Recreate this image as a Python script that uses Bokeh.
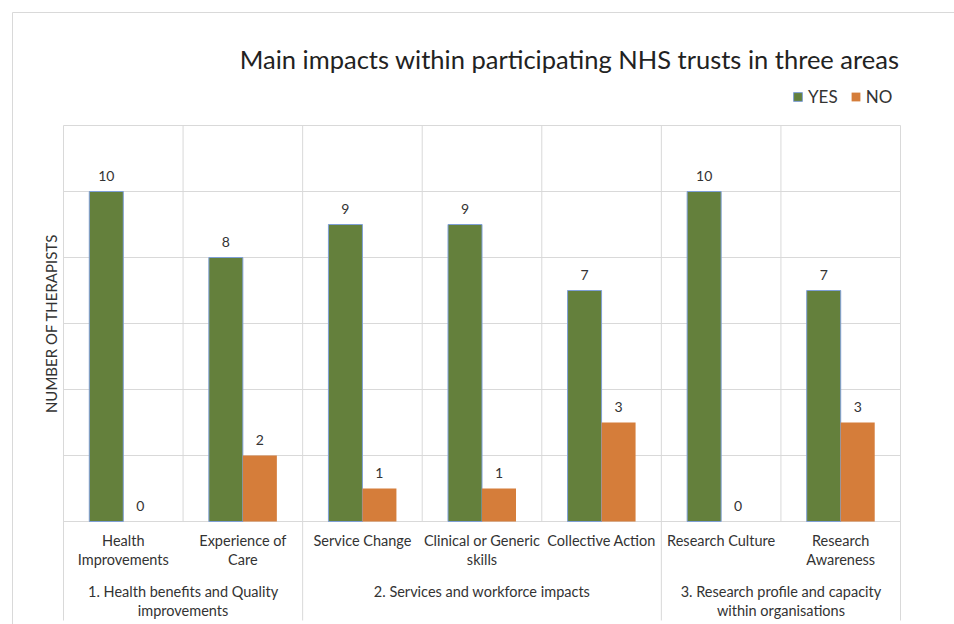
import numpy as np
from bokeh.plotting import figure
from bokeh.models import Range1d, ColumnDataSource, Legend, LegendItem
from bokeh.core.properties import value
from bokeh.embed import file_html
from bokeh.resources import INLINE

# ---------------- data ----------------
title_text = "Main impacts within participating NHS trusts in three areas"
y_label = "NUMBER OF THERAPISTS"
groups = [
    "1. Health benefits and Quality\nimprovements",
    "2. Services and workforce impacts",
    "3. Research profile and capacity\nwithin organisations",
]
categories = [
    "Health\nImprovements",
    "Experience of\nCare",
    "Service Change",
    "Clinical or Generic\nskills",
    "Collective Action",
    "Research Culture",
    "Research\nAwareness",
]
category_group = [0, 0, 1, 1, 1, 2, 2]
yes_counts = [10, 8, 9, 9, 7, 10, 7]
no_counts = [0, 2, 1, 1, 3, 0, 3]
series_names = ["YES", "NO"]
y_ticks = [0, 2, 4, 6, 8, 10, 12]

# ---------------- layout (pixels of the picture) ----------------
W, H = 954, 624
PX_CAT = (900 - 63) / len(categories)   # px per category
PX_UNIT = (521 - 125) / max(y_ticks)    # px per y unit
def X(px):
    return (px - 63) / PX_CAT
def Y(py):
    return (521 - py) / PX_UNIT

GREEN = "#64803c"
ORANGE = "#d57d3a"
GRID = "#d9d9d9"
TXT = "#333333"
FONT = value("Lato")

p = figure(width=W, height=H, output_backend="svg", toolbar_location=None,
           x_range=Range1d(X(0), X(W)), y_range=Range1d(Y(H), Y(0)),
           x_axis_location=None, y_axis_location=None,
           min_border=0, outline_line_color=None)
p.xgrid.visible = False
p.ygrid.visible = False
p.background_fill_color = "white"
p.border_fill_color = "white"

n = len(categories)
centers = np.arange(n) + 0.5
bw = 34 / PX_CAT

# outer chart border (left and top edges)
p.line(x=[X(12), X(12), X(W)], y=[Y(H), Y(12), Y(12)], line_color=GRID, line_width=1)

# horizontal gridlines
p.segment(x0=[0] * len(y_ticks), x1=[n] * len(y_ticks), y0=y_ticks, y1=y_ticks,
          line_color=GRID, line_width=1)

# vertical separators: category boundaries inside plot, group boundaries extend down
bounds = np.arange(n + 1)
group_bounds = [0] + [i + 1 for i in range(n - 1) if category_group[i] != category_group[i + 1]] + [n]
inner = [int(b) for b in bounds if b not in group_bounds]
p.segment(x0=inner, x1=inner, y0=[0] * len(inner), y1=[max(y_ticks)] * len(inner),
          line_color=GRID, line_width=1)
p.segment(x0=group_bounds, x1=group_bounds, y0=[Y(620)] * len(group_bounds),
          y1=[max(y_ticks)] * len(group_bounds), line_color=GRID, line_width=1)

src = ColumnDataSource(dict(
    xy=centers - bw / 2, xn=centers + bw / 2,
    yes=yes_counts, no=no_counts,
    yes_lab=[str(v) for v in yes_counts], no_lab=[str(v) for v in no_counts],
))

r_yes = p.vbar(x="xy", top="yes", bottom=0, width=bw, source=src,
               fill_color=GREEN, line_color="#7f9fd6", line_width=1)
r_no = p.vbar(x="xn", top="no", bottom=0, width=bw, source=src,
              fill_color=ORANGE, line_color=None)

p.text(x="xy", y="yes", text="yes_lab", source=src, text_align="center",
       text_baseline="middle", y_offset=-16, text_font=FONT,
       text_font_size="14px", text_color=TXT)
p.text(x="xn", y="no", text="no_lab", source=src, text_align="center",
       text_baseline="middle", y_offset=-16, text_font=FONT,
       text_font_size="14px", text_color=TXT)

# category labels
p.text(x=centers, y=[Y(531)] * n, text=categories, text_align="center",
       text_baseline="top", text_font=FONT, text_font_size="14.5px",
       text_line_height=1.15, text_color=TXT)

# group labels
gcent = [float(np.mean([centers[i] for i in range(n) if category_group[i] == g])) for g in range(len(groups))]
p.text(x=gcent, y=[Y(582)] * len(groups), text=groups, text_align="center",
       text_baseline="top", text_font=FONT, text_font_size="14.5px",
       text_line_height=1.12, text_color=TXT)

# y axis title
p.text(x=[X(50)], y=[Y(323)], text=[y_label], angle=np.pi / 2, text_align="center",
       text_baseline="middle", text_font=FONT, text_font_size="15px", text_color=TXT)

# chart title
p.text(x=[X(899)], y=[Y(58)], text=[title_text], text_align="right",
       text_baseline="middle", text_font=FONT, text_font_size="25.5px", text_color="#222222")

legend = Legend(items=[LegendItem(label=series_names[0], renderers=[r_yes]),
                       LegendItem(label=series_names[1], renderers=[r_no])],
                orientation="horizontal", location=(792, H - 107),
                glyph_width=11, glyph_height=11, label_standoff=5, spacing=12,
                padding=0, margin=0, border_line_color=None,
                background_fill_alpha=0, label_text_font="Lato",
                label_text_font_size="17px", label_text_color=TXT,
                label_height=22)
p.add_layout(legend)

open("out.html", "w").write(file_html(p, INLINE))
